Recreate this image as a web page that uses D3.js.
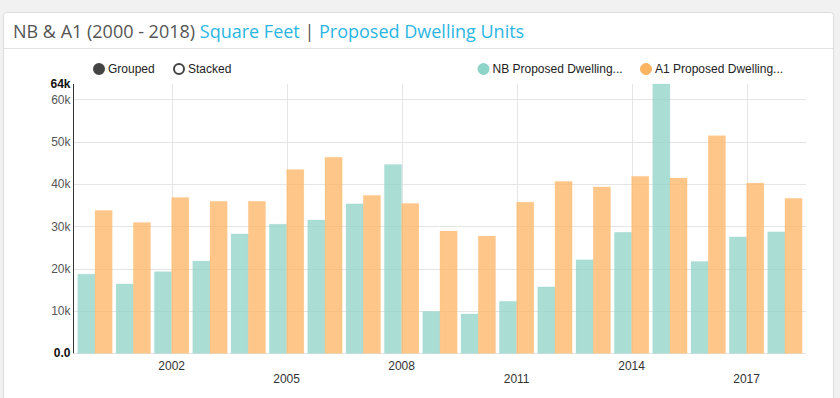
<!DOCTYPE html>
<html>
<head>
<meta charset="utf-8">
<script src="https://cdn.jsdelivr.net/npm/d3@7"></script>
<style>
  body { margin: 0; background: #f1f1f1; }
  svg { display: block; }
  text { font-family: "Liberation Sans", Arial, sans-serif; }
</style>
</head>
<body>
<svg id="chart"></svg>
<script>
// data
const years = [2000, 2001, 2002, 2003, 2004, 2005, 2006, 2007, 2008, 2009,
  2010, 2011, 2012, 2013, 2014, 2015, 2016, 2017, 2018];
const nbValues = [18700, 16400, 19300, 21800, 28200, 30500, 31500, 35300, 44600, 9900,
  9300, 12300, 15700, 22100, 28600, 63600, 21700, 27500, 28700];
const a1Values = [33750, 30900, 36800, 35900, 35900, 43400, 46300, 37300, 35400, 28900,
  27700, 35700, 40600, 39300, 41800, 41400, 51400, 40200, 36600];
const seriesNames = ["NB Proposed Dwelling...", "A1 Proposed Dwelling..."];
const seriesColors = ["#8dd3c7", "#fdb462"];
const yTicks = [10000, 20000, 30000, 40000, 50000, 60000];
const xTickYears = [2002, 2005, 2008, 2011, 2014, 2017];

const width = 840, height = 398;
const svg = d3.select("#chart").attr("width", width).attr("height", height);

// card
svg.append("rect")
  .attr("x", 3.5).attr("y", 12.5)
  .attr("width", 830).attr("height", 400)
  .attr("rx", 3)
  .attr("fill", "#fff").attr("stroke", "#dcdcdc");
svg.append("line")
  .attr("x1", 4).attr("x2", 833)
  .attr("y1", 48.5).attr("y2", 48.5)
  .attr("stroke", "#e3e3e3");

// title
const title = svg.append("text")
  .attr("x", 13).attr("y", 38)
  .style("font-family", "'Open Sans', sans-serif")
  .style("font-size", "18px");
title.append("tspan").attr("fill", "#555").text("NB & A1 (2000 - 2018) ");
title.append("tspan").attr("fill", "#29b6e3").text("Square Feet");
title.append("tspan").attr("fill", "#555").text(" | ");
title.append("tspan").attr("fill", "#29b6e3").text("Proposed Dwelling Units");

// scales
const x0 = d3.scaleBand().domain(years).range([73.9, 806]).paddingInner(0.1).paddingOuter(0.1);
const x1 = d3.scaleBand().domain([0, 1]).range([0, x0.bandwidth()]);
const yMax = d3.max(nbValues.concat(a1Values));
const y = d3.scaleLinear().domain([0, yMax]).range([353.4, 84]);

const g = svg.append("g");

// horizontal grid
g.append("g")
  .selectAll("line")
  .data([0].concat(yTicks))
  .join("line")
  .attr("x1", 73.9).attr("x2", 806)
  .attr("y1", d => Math.round(y(d)) + 0.5)
  .attr("y2", d => Math.round(y(d)) + 0.5)
  .attr("stroke", "#e5e5e5");

// vertical grid
g.append("g")
  .selectAll("line")
  .data(xTickYears)
  .join("line")
  .attr("x1", d => Math.round(x0(d) + x0.bandwidth() / 2) + 0.5)
  .attr("x2", d => Math.round(x0(d) + x0.bandwidth() / 2) + 0.5)
  .attr("y1", y(yMax)).attr("y2", y(0))
  .attr("stroke", "#e5e5e5");

// bars
const rows = years.map((yr, i) => ({ year: yr, values: [nbValues[i], a1Values[i]] }));
const groups = g.append("g").selectAll("g")
  .data(rows)
  .join("g")
  .attr("transform", d => `translate(${x0(d.year)},0)`);
groups.selectAll("rect")
  .data(d => d.values.map((v, k) => ({ k, v })))
  .join("rect")
  .attr("x", d => x1(d.k))
  .attr("width", x1.bandwidth())
  .attr("y", d => y(d.v))
  .attr("height", d => y(0) - y(d.v))
  .attr("fill", d => seriesColors[d.k])
  .attr("fill-opacity", 0.75)
  .attr("stroke", d => seriesColors[d.k])
  .attr("stroke-opacity", 0.15);

// y axis
const yAxis = g.append("g")
  .attr("transform", "translate(73.5,0)")
  .call(d3.axisLeft(y).tickValues(yTicks).tickSize(0).tickPadding(3)
    .tickFormat(d => d / 1000 + "k"));
yAxis.select(".domain").attr("stroke", "#333").attr("d", `M0,${y(yMax)}V${y(0)}`);
yAxis.selectAll("text").attr("fill", "#555").style("font-size", "12px");
// extremes, bold
g.append("g").selectAll("text")
  .data([0, yMax])
  .join("text")
  .attr("x", 70.5)
  .attr("y", d => y(d))
  .attr("dy", "0.32em")
  .attr("text-anchor", "end")
  .attr("fill", "#111")
  .style("font-size", "12px")
  .style("font-weight", "bold")
  .text(d => d === 0 ? "0.0" : Math.round(d / 1000) + "k");

// x axis labels, staggered
g.append("g").selectAll("text")
  .data(xTickYears)
  .join("text")
  .attr("x", d => x0(d) + x0.bandwidth() / 2)
  .attr("y", (d, i) => i % 2 === 0 ? 370 : 383)
  .attr("text-anchor", "middle")
  .attr("fill", "#333")
  .style("font-size", "12px")
  .text(d => d);

// controls legend
const controls = [{ label: "Grouped", on: true, x: 99 }, { label: "Stacked", on: false, x: 179 }];
const cg = svg.append("g").selectAll("g").data(controls).join("g")
  .attr("transform", d => `translate(${d.x},69)`);
cg.append("circle").attr("r", 5)
  .attr("fill", d => d.on ? "#444" : "#fff")
  .attr("stroke", "#444").attr("stroke-width", 2);
cg.append("text").attr("x", 9).attr("dy", "0.32em")
  .attr("fill", "#222").style("font-size", "12px").text(d => d.label);

// series legend
const legendX = [483.5, 646];
const lg = svg.append("g").selectAll("g").data(seriesNames).join("g")
  .attr("transform", (d, i) => `translate(${legendX[i]},69)`);
lg.append("circle").attr("r", 5.5)
  .attr("fill", (d, i) => seriesColors[i])
  .attr("stroke", (d, i) => seriesColors[i]);
lg.append("text").attr("x", 9).attr("dy", "0.32em")
  .attr("fill", "#222").style("font-size", "12px").text(d => d);
</script>
</body>
</html>
